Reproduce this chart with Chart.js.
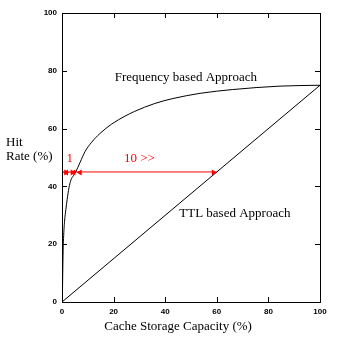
<!DOCTYPE html>
<html>
<head>
<meta charset="utf-8">
<script src="https://cdn.jsdelivr.net/npm/chart.js@4"></script>
<style>
  body { margin: 0; background: #fff; }
  canvas { display: block; }
</style>
</head>
<body>
<canvas id="hitChart" width="350" height="348"></canvas>
<script>
// Frequency based approach curve
const freqX = [0.2, 0.4, 0.6, 1.0, 1.5, 2.0, 2.7, 3.5, 4.5, 5.3, 7.0, 8.9, 11.5, 14.7, 19.3, 24.4, 28, 36, 43, 53.5, 66, 84.5, 100];
const freqY = [5, 16, 22, 28, 32, 35.5, 39.5, 42.3, 43.8, 45, 48.3, 52, 55.3, 58.3, 61.6, 64.3, 65.9, 68.7, 70.4, 72.2, 73.5, 74.7, 75];
// TTL based approach line
const ttlX = [0, 100];
const ttlY = [0, 75];
// red arrow marks at hit rate 45%
const arrowY = 45;
const arrowStops = [0, 2.8, 5.3, 60];
const tickValues = [0, 20, 40, 60, 80, 100];

const serif = '13px "Liberation Serif", "DejaVu Serif", serif';

function toPoints(xs, ys) {
  return xs.map(function (x, i) { return { x: x, y: ys[i] }; });
}

function arrowHead(ctx, x, y, dir) {
  ctx.beginPath();
  ctx.moveTo(x, y);
  ctx.lineTo(x - dir * 5, y - 3);
  ctx.lineTo(x - dir * 5, y + 3);
  ctx.closePath();
  ctx.fill();
}

const extras = {
  id: 'extras',
  afterDatasetsDraw: function (chart) {
    const ctx = chart.ctx;
    const a = chart.chartArea;
    const xs = chart.scales.x;
    const ys = chart.scales.y;
    ctx.save();

    // frame
    ctx.strokeStyle = '#000';
    ctx.lineWidth = 1;
    ctx.strokeRect(Math.round(a.left) + 0.5, Math.round(a.top) + 0.5,
      Math.round(a.right - a.left), Math.round(a.bottom - a.top));

    // inward ticks on all four sides
    ctx.beginPath();
    tickValues.forEach(function (v) {
      const px = Math.round(xs.getPixelForValue(v)) + 0.5;
      const py = Math.round(ys.getPixelForValue(v)) + 0.5;
      ctx.moveTo(px, a.bottom); ctx.lineTo(px, a.bottom - 5);
      ctx.moveTo(px, a.top); ctx.lineTo(px, a.top + 5);
      ctx.moveTo(a.left, py); ctx.lineTo(a.left + 5, py);
      ctx.moveTo(a.right, py); ctx.lineTo(a.right - 5, py);
    });
    ctx.stroke();

    // red arrow heads
    ctx.fillStyle = '#ff0000';
    const ay = Math.round(ys.getPixelForValue(arrowY)) + 0.5;
    for (let i = 0; i < arrowStops.length - 1; i++) {
      arrowHead(ctx, xs.getPixelForValue(arrowStops[i]) + 1, ay, -1);
      arrowHead(ctx, xs.getPixelForValue(arrowStops[i + 1]), ay, 1);
    }

    // texts
    ctx.font = serif;
    ctx.textBaseline = 'middle';
    ctx.textAlign = 'center';
    ctx.fillText('1', xs.getPixelForValue(3), ys.getPixelForValue(49.5));
    ctx.fillText('10 >>', xs.getPixelForValue(30), ys.getPixelForValue(49.5));

    ctx.fillStyle = '#000';
    ctx.fillText('Frequency based Approach', xs.getPixelForValue(48), ys.getPixelForValue(77.5));
    ctx.fillText('TTL based Approach', xs.getPixelForValue(67), ys.getPixelForValue(30.5));
    ctx.fillText('Cache Storage Capacity (%)', xs.getPixelForValue(45), a.bottom + 25);

    ctx.textAlign = 'left';
    ctx.fillText('Hit', 6, 143);
    ctx.fillText('Rate (%)', 6, 157);
    ctx.restore();
  }
};

const tickFont = { family: '"Liberation Sans", Arial, sans-serif', size: 8, weight: 'bold' };

new Chart(document.getElementById('hitChart'), {
  type: 'scatter',
  data: {
    datasets: [
      {
        data: toPoints(freqX, freqY),
        showLine: true,
        borderColor: '#000',
        borderWidth: 1,
        pointRadius: 0,
        cubicInterpolationMode: 'monotone'
      },
      {
        data: toPoints(ttlX, ttlY),
        showLine: true,
        borderColor: '#000',
        borderWidth: 1,
        pointRadius: 0
      },
      {
        data: toPoints([arrowStops[0], arrowStops[arrowStops.length - 1]], [arrowY, arrowY]),
        showLine: true,
        borderColor: '#ff0000',
        borderWidth: 1,
        pointRadius: 0
      }
    ]
  },
  options: {
    responsive: false,
    animation: false,
    layout: { padding: { top: 13, right: 30, left: 0, bottom: 0 } },
    plugins: { legend: { display: false }, tooltip: { enabled: false } },
    scales: {
      x: {
        type: 'linear',
        min: 0,
        max: 100,
        afterFit: function (s) { s.height = 46; },
        grid: { display: false, drawTicks: false },
        border: { display: false },
        ticks: { stepSize: 20, font: tickFont, color: '#000', padding: 5, maxRotation: 0 }
      },
      y: {
        type: 'linear',
        min: 0,
        max: 100,
        afterFit: function (s) { s.width = 62; },
        grid: { display: false, drawTicks: false },
        border: { display: false },
        ticks: { stepSize: 20, font: tickFont, color: '#000', padding: 5 }
      }
    }
  },
  plugins: [extras]
});
</script>
</body>
</html>
